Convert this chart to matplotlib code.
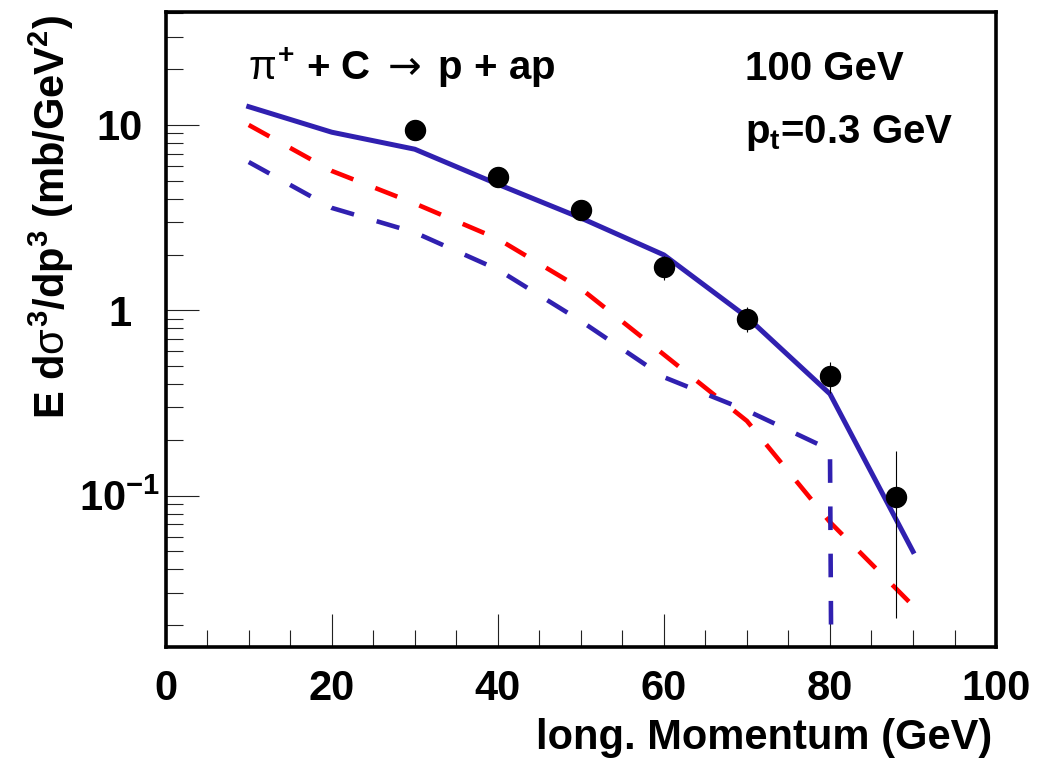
import matplotlib
matplotlib.use("Agg")
import matplotlib.pyplot as plt
from matplotlib.ticker import LogLocator, MultipleLocator, NullFormatter

plt.rcParams["font.family"] = ["Liberation Sans", "DejaVu Sans"]
plt.rcParams["font.weight"] = "bold"
plt.rcParams["axes.labelweight"] = "bold"
plt.rcParams["mathtext.fontset"] = "custom"
plt.rcParams["mathtext.rm"] = "Liberation Sans:weight=bold"
plt.rcParams["mathtext.bf"] = "Liberation Sans:weight=bold"
plt.rcParams["mathtext.it"] = "Liberation Sans:weight=normal"
plt.rcParams["mathtext.sf"] = "DejaVu Sans:weight=normal"
plt.rcParams["lines.scale_dashes"] = False

# measured points
data_p = [30, 40, 50, 60, 70, 80, 88]
data_xsec = [9.4, 5.24, 3.48, 1.71, 0.90, 0.443, 0.098]
data_err = [0.5, 0.3, 0.2, 0.25, 0.14, 0.086, 0.076]

# model curves
model_p = [10, 20, 30, 40, 50, 60, 70, 80, 90]
model_total = [12.55, 9.14, 7.4, 4.79, 3.15, 1.99, 0.92, 0.354, 0.05]
model_red = [10.0, 5.65, 3.77, 2.43, 1.31, 0.577, 0.253, 0.072, 0.0255]
model_blue_p = [10, 20, 30, 40, 50, 60, 70, 80, 80.3]
model_blue = [6.31, 3.57, 2.63, 1.66, 0.876, 0.436, 0.288, 0.177, 0.001]

y_ticks = [0.1, 1, 10]
y_tick_labels = [r"$10^{-1}$", "1", "10"]

BLUE = "#3020b0"
RED = "#ff0000"

fig = plt.figure(figsize=(10.37, 7.63), dpi=100)
ax = fig.add_axes([0.1598, 0.1524, 0.8007, 0.8319])

ax.plot(model_p, model_total, color=BLUE, lw=3.6, zorder=3)
ax.plot(model_p, model_red, color=RED, lw=3.3, linestyle=(0, (17, 17)), zorder=2)
ax.plot(model_blue_p, model_blue, color=BLUE, lw=3.3, linestyle=(0, (17, 17)), zorder=2)
ax.errorbar(data_p, data_xsec, yerr=data_err, fmt="o", color="black", ms=14.4,
            elinewidth=0.8, capsize=0, zorder=5)

ax.set_yscale("log")
ax.set_xlim(0, 100)
ax.set_ylim(0.01532, 40.7)

ax.xaxis.set_major_locator(MultipleLocator(20))
ax.xaxis.set_minor_locator(MultipleLocator(5))
ax.set_yticks(y_ticks, labels=y_tick_labels)
ax.yaxis.set_minor_locator(LogLocator(base=10, subs=range(2, 10)))
ax.yaxis.set_minor_formatter(NullFormatter())

ax.tick_params(which="both", direction="in", top=False, right=False, width=0.8,
               labelsize=30, color="#222222")
ax.tick_params(which="major", length=24)
ax.tick_params(which="minor", length=12)
ax.tick_params(axis="x", which="major", pad=16)
ax.tick_params(axis="y", which="major", pad=33)
for lab in ax.get_yticklabels():
    lab.set_horizontalalignment("center")

for sp in ax.spines.values():
    sp.set_linewidth(2.6)

ax.set_xlabel("long. Momentum (GeV)", fontsize=30, loc="right")
ax.xaxis.set_label_coords(0.995, -0.113)
ax.set_ylabel(r"E d$\sigma^{3}$/dp$^{3}$ (mb/GeV$^{2}$)", fontsize=30, loc="top")
ax.yaxis.set_label_coords(-0.108, 0.995)

ax.text(0.099, 0.893, r"$\pi^{+}$ + C $\mathsf{\rightarrow}\;$p + ap", fontsize=29,
        transform=ax.transAxes, va="baseline")
ax.text(0.698, 0.893, "100 GeV", fontsize=29, transform=ax.transAxes, va="baseline")
ax.text(0.698, 0.7936, r"p$_{\mathrm{t}}$=0.3 GeV", fontsize=29,
        transform=ax.transAxes, va="baseline")

fig.savefig("out.png", dpi=100)
